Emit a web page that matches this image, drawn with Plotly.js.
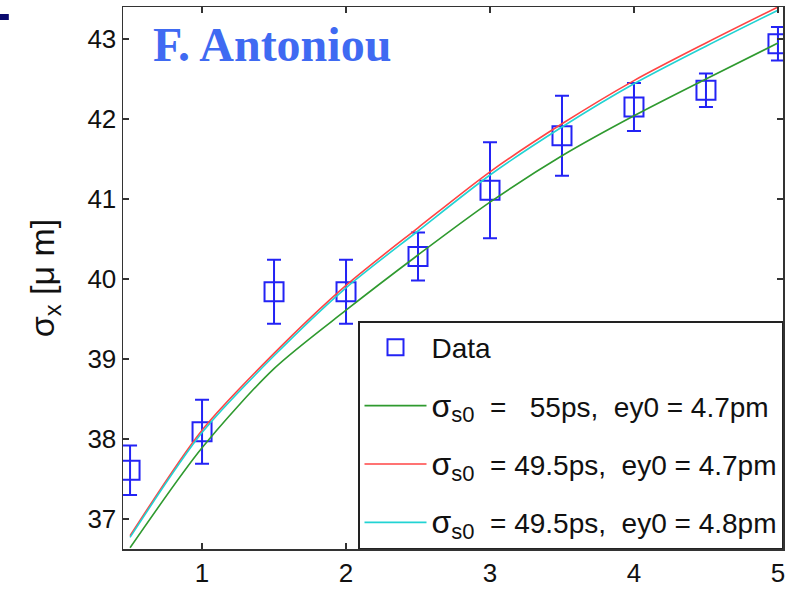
<!DOCTYPE html>
<html>
<head>
<meta charset="utf-8">
<script src="https://cdn.plot.ly/plotly-3.0.1.min.js"></script>
<style>html,body{margin:0;padding:0;background:#fff;}#chart{width:786px;height:590px;}</style>
</head>
<body>
<div id="chart"></div>
<script>
// Measured data
const dataX = [0.5, 1, 1.5, 2, 2.5, 3, 3.5, 4, 4.5, 5];
const dataY = [37.61, 38.09, 39.84, 39.84, 40.28, 41.11, 41.79, 42.15, 42.36, 42.94];
const dataErr = [0.31, 0.40, 0.40, 0.40, 0.30, 0.60, 0.50, 0.30, 0.21, 0.21];

// Model curves
const curveX = [0.5, 1, 1.5, 2, 2.5, 3, 3.5, 4, 4.5, 5];
const green55 = [36.64, 37.89, 38.88, 39.61, 40.30, 40.96, 41.54, 42.04, 42.50, 42.95];
const red495 = [36.79, 38.11, 39.07, 39.92, 40.64, 41.34, 41.94, 42.48, 42.95, 43.40];
const cyan495 = [36.77, 38.08, 39.04, 39.89, 40.60, 41.30, 41.90, 42.44, 42.91, 43.36];

const sig = '<span style="font-size:32px">σ</span><sub><span style="font-size:22px">s0</span></sub>';
const names = [
  'Data',
  sig + '  =   55ps,  ey0 = 4.7pm',
  sig + '  = 49.5ps,  ey0 = 4.7pm',
  sig + '  = 49.5ps,  ey0 = 4.8pm'
];

const blue = '#2323f5';
const traces = [
  {x: dataX, y: dataY, name: names[0], legendgroup: 'g0', type: 'scatter', mode: 'markers',
   marker: {symbol: 'square-open', size: 19, color: blue, line: {width: 2, color: blue}},
   error_y: {type: 'data', array: dataErr, visible: true, color: blue, thickness: 2, width: 7}},
  {x: curveX, y: green55, name: names[1], legendgroup: 'g1', type: 'scatter', mode: 'lines',
   line: {color: '#2f9a2f', width: 1.6, shape: 'spline', smoothing: 0.8}},
  {x: curveX, y: red495, name: names[2], legendgroup: 'g2', type: 'scatter', mode: 'lines',
   line: {color: '#ff4444', width: 1.6, shape: 'spline', smoothing: 0.8}},
  {x: curveX, y: cyan495, name: names[3], legendgroup: 'g3', type: 'scatter', mode: 'lines',
   line: {color: '#22d3d3', width: 1.6, shape: 'spline', smoothing: 0.8}}
];

const layout = {
  width: 786, height: 590,
  margin: {l: 123, r: 3, t: 7, b: 41},
  paper_bgcolor: '#fff', plot_bgcolor: '#fff',
  font: {family: 'Liberation Sans, Arial, sans-serif', color: '#111'},
  showlegend: true,
  legend: {x: 1, y: 0, xanchor: 'right', yanchor: 'bottom', bgcolor: '#fff',
           bordercolor: '#222', borderwidth: 1.5, font: {size: 28, color: '#111'},
           tracegroupgap: 19, itemwidth: 62},
  xaxis: {range: [0.451, 5.035], tickvals: [1, 2, 3, 4, 5], ticktext: ['1', '2', '3', '4', '5'],
          ticks: 'inside', ticklen: 6, tickwidth: 1.3, tickcolor: '#333', mirror: 'ticks',
          showline: true, linecolor: '#333', linewidth: 1.5, showgrid: false, zeroline: false,
          tickfont: {size: 26, color: '#111'}},
  yaxis: {range: [36.625, 43.40], tickvals: [37, 38, 39, 40, 41, 42, 43],
          ticktext: ['37', '38', '39', '40', '41', '42', '43'],
          ticks: 'inside', ticklen: 6, tickwidth: 1.3, tickcolor: '#333', mirror: 'ticks',
          showline: true, linecolor: '#333', linewidth: 1.5, showgrid: false, zeroline: false,
          tickfont: {size: 26, color: '#111'},
          title: {text: 'σ<sub>x</sub> [μ m]', font: {size: 34, color: '#111'}, standoff: 22}},
  annotations: [
    {xref: 'paper', yref: 'paper', x: 0.042, y: 0.93, xanchor: 'left', yanchor: 'middle',
     text: '<b>F. Antoniou</b>', showarrow: false,
     font: {family: 'Liberation Serif, Times New Roman, serif', size: 48, color: '#3f6af2'}}
  ],
  shapes: [
    {type: 'line', xref: 'paper', yref: 'paper', x0: -0.188, x1: -0.173, y0: 0.9815, y1: 0.9815,
     line: {color: '#0a0a6e', width: 6}}
  ]
};

Plotly.newPlot('chart', traces, layout, {displayModeBar: false, staticPlot: true});
</script>
</body>
</html>
